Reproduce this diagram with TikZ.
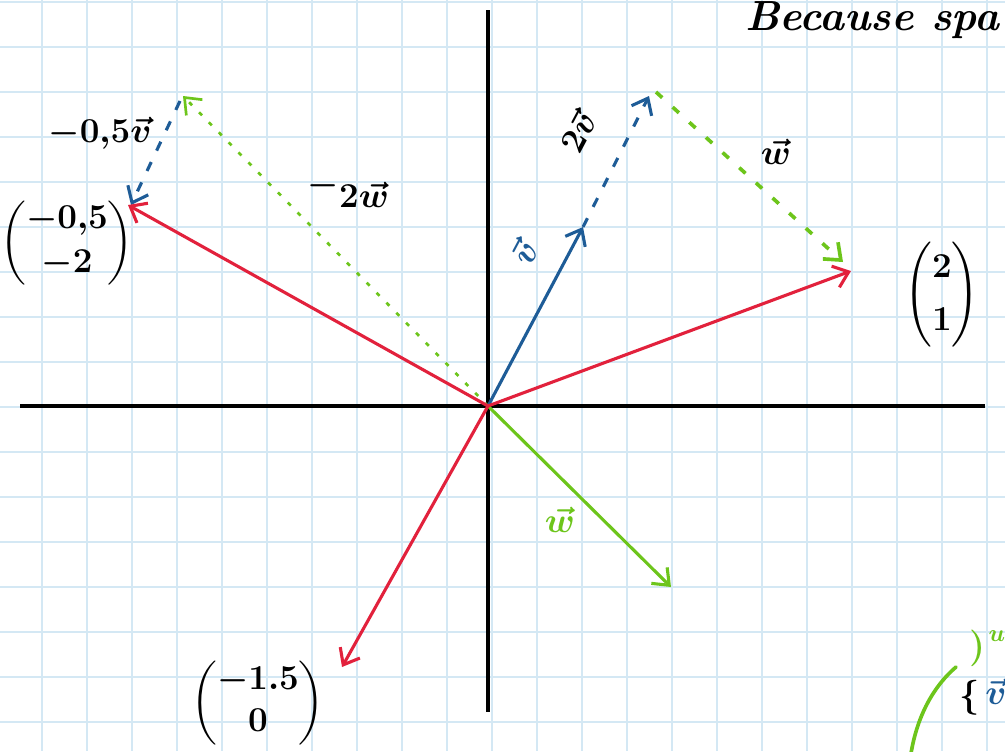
\documentclass[tikz,border=0pt]{standalone}
\usepackage{amsmath}
\usetikzlibrary{arrows.meta}
\definecolor{gridblue}{HTML}{D4E8F4}
\definecolor{vred}{HTML}{E2213C}
\definecolor{vblue}{HTML}{1E5C97}
\definecolor{vgreen}{HTML}{6DC51B}
\begin{document}
\begin{tikzpicture}[x=0.025cm,y=-0.025cm,
  tip/.style={-{Straight Barb[length=10pt,width=16pt]}},
  redvec/.style={vred,line width=2.2pt,tip},
  bluevec/.style={vblue,line width=2.2pt,tip},
  greenvec/.style={vgreen,line width=2.2pt,tip},
  bluedash/.style={vblue,line width=2.2pt,tip,dash pattern=on 7pt off 9pt},
  greendash/.style={vgreen,line width=2.6pt,tip,dash pattern=on 6pt off 10pt},
  greendot/.style={vgreen,line width=1.9pt,tip,dash pattern=on 3pt off 7pt},
  axis/.style={black,line width=2.4pt},
  lbl/.style={inner sep=0pt,font=\boldmath\bfseries\fontsize{#1}{#1}\selectfont},
  lbl/.default=24]
\fill[white] (0,0) rectangle (1005,751);
\useasboundingbox (0,0) rectangle (1005,751);
% grid
\foreach \x in {42,87,...,987} \draw[gridblue,line width=0.8pt] (\x,0) -- (\x,751);
\foreach \y in {2,47,...,722} \draw[gridblue,line width=0.8pt] (0,\y) -- (1005,\y);
% coordinates
\coordinate (O) at (488,406);
\coordinate (xl) at (20,406);
\coordinate (xr) at (985,406);
\coordinate (yt) at (488,10);
\coordinate (yb) at (488,712);
\coordinate (A) at (851,271);
\coordinate (B) at (128,205);
\coordinate (C) at (342,667);
\coordinate (V) at (583,227);
\coordinate (V2) at (649,96);
\coordinate (G1) at (656,92);
\coordinate (G2) at (843,262);
\coordinate (W) at (671,587);
\coordinate (M) at (183,96);
\coordinate (M1) at (180,101);
\coordinate (B1) at (131,205);
% axes
\draw[axis] (xl) -- (xr);
\draw[axis] (yt) -- (yb);
% construction lines
\draw[bluedash] (V) -- (V2);
\draw[greendash] (G1) -- (G2);
\draw[greendot] (O) -- (M);
\draw[bluedash] (M1) -- (B1);
% vectors
\draw[bluevec] (O) -- (V);
\draw[greenvec] (O) -- (W);
\draw[redvec] (O) -- (A);
\draw[redvec] (O) -- (B);
\draw[redvec] (O) -- (C);
% labels
\node[lbl=24] (l05v) at (100,133) {$-0{,}5\vec{v}$};
\node[lbl=40] (l2w) at (348,190) {$^{-}2\vec{w}$};
\node[lbl=27] (mB) at (67,243) {$\left(\begin{matrix}-0{,}5\\[4pt]-2\end{matrix}\right)$};
\node[lbl=32] (mA) at (942,295) {$\left(\begin{matrix}2\\[6pt]1\end{matrix}\right)$};
\node[lbl=28] (mC) at (258,703) {$\left(\begin{matrix}-1.5\\[2pt]0\end{matrix}\right)$};
\node[lbl=34,text=vblue,rotate=62] (lv) at (524,252) {$\vec{v}$};
\node[lbl=32,rotate=62] (l2v) at (578,132) {$2\vec{v}$};
\node[lbl=34] (lw) at (776,152) {$\vec{w}$};
\node[lbl=34,text=vgreen] (lgw) at (560,520) {$\vec{w}$};
\node[lbl=30,anchor=west] (txt) at (745,20) {\itshape Because spa};
% bottom-right fragments
\draw[vgreen,line width=2.6pt,line cap=round] (910,760) .. controls (916,715) and (935,685) .. (956,667);
\node[lbl=26,text=vgreen] (gpar) at (977,648) {)};
\node[lbl=16,text=vgreen] (gu) at (997,636) {$u$};
\node[lbl=26] (brace) at (970,698) {$\{$};
\node[lbl=28,text=vblue,anchor=west] (bv) at (985,692) {$\vec{v}$};
\end{tikzpicture}
\end{document}
